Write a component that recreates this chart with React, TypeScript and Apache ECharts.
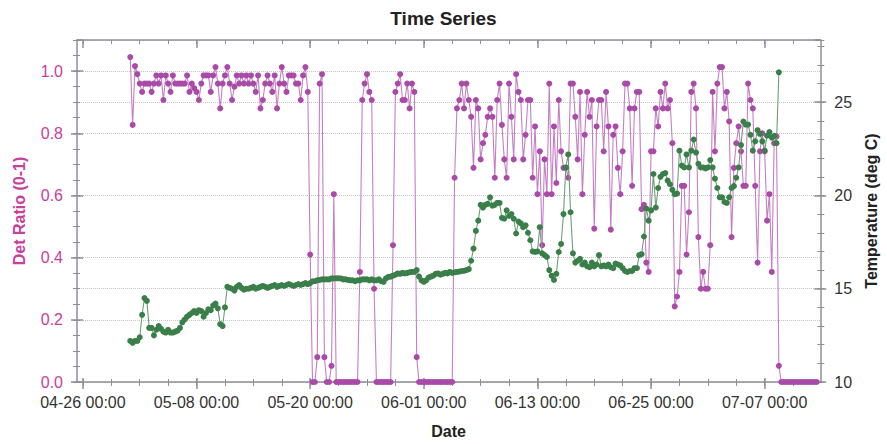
import React, { useEffect, useRef } from "react";
import * as echarts from "echarts";

// ---- data (6-hour samples starting 05-01 00:00) ----
const seriesStartUTC = Date.UTC(2021, 4, 1, 0, 0);
const sampleHours = 6;

const detRatio: number[] = [
  1.045, 0.827, 1.016, 0.99, 0.96, 0.933, 0.96, 0.96, 0.96, 0.933,
  0.96, 0.986, 0.96, 0.986, 0.907, 0.986, 0.96, 0.933, 0.986, 0.96,
  0.96, 0.96, 0.96, 0.96, 0.986, 0.933, 0.96, 0.945, 0.933, 0.907,
  0.96, 0.986, 0.986, 0.986, 0.933, 0.986, 1.013, 0.96, 0.88, 0.96,
  0.986, 1.013, 0.96, 0.907, 0.95, 0.986, 0.96, 0.986, 0.96, 0.986,
  0.96, 0.986, 0.96, 0.933, 0.986, 0.88, 0.907, 0.96, 0.986, 0.96,
  0.933, 0.986, 0.88, 0.96, 1.013, 0.96, 0.933, 0.986, 0.986, 0.986,
  0.96, 0.96, 0.907, 0.986, 1.013, 0.933,
  0.41, 0, 0, 0.08, 0.96, 0.99, 0.08, 0, 0, 0.052, 0.604,
  0, 0, 0, 0, 0, 0, 0, 0, 0, 0,
  0.354, 0.907, 0.96, 0.99, 0.933, 0.907, 0.3,
  0, 0, 0, 0, 0, 0, 0,
  0.44, 0.933, 0.96, 0.99, 0.907, 0.907, 0.96, 0.88, 0.96, 0.933, 0.08,
  0, 0, 0, 0, 0, 0, 0, 0, 0, 0, 0, 0, 0, 0, 0,
  0.657, 0.88, 0.907, 0.96, 0.88, 0.96, 0.907, 0.853, 0.689, 0.907,
  0.88, 0.716, 0.768, 0.795, 0.853, 0.88, 0.853, 0.657, 0.907, 0.96,
  0.827, 0.716, 0.657, 0.96, 0.853, 0.716, 0.99, 0.933, 0.907, 0.716,
  0.795, 0.907, 0.907, 0.657, 0.822, 0.604, 0.742, 0.44, 0.716, 0.604,
  0.96, 0.604, 0.822, 0.64, 0.907, 0.742, 0.689, 0.689, 0.657, 0.96,
  0.96, 0.853, 0.716, 0.933, 0.604, 0.795, 0.933, 0.853, 0.907, 0.493,
  0.822, 0.907, 0.907, 0.742, 0.933, 0.822, 0.49, 0.795, 0.822, 0.689,
  0.604, 0.742, 0.96, 0.96, 0.88, 0.631, 0.88, 0.933, 0.933, 0.556,
  0.57, 0.384, 0.354, 0.742, 0.742, 0.88, 0.822, 0.933, 0.88, 0.96,
  0.88, 0.907, 0.768, 0.243, 0.275, 0.354, 0.631, 0.631, 0.41, 0.546,
  0.933, 0.96, 0.88, 0.466, 0.3, 0.354, 0.3, 0.3, 0.44, 0.933,
  0.742, 0.96, 1.013, 1.013, 0.88, 0.933, 0.838, 0.466, 0.689, 0.768,
  0.822, 0.742, 0.631, 0.631, 0.96, 0.907, 0.88, 0.631, 0.384, 0.742,
  0.8, 0.742, 0.519, 0.604, 0.354, 0.768, 0.79, 0.052,
  0, 0, 0, 0, 0, 0, 0, 0, 0, 0, 0, 0, 0, 0, 0, 0,
];

const temperature: number[] = [
  12.2, 12.1, 12.2, 12.2, 12.4, 13.6, 14.5, 14.35, 12.9, 12.9,
  12.5, 12.8, 13.0, 12.85, 12.7, 12.65, 12.8, 12.65, 12.65, 12.7,
  12.75, 12.9, 13.2, 13.35, 13.5, 13.6, 13.7, 13.8, 13.7, 13.85,
  13.8, 13.5, 13.7, 13.9, 13.85, 14.1, 14.2, 13.95, 13.1, 13.0,
  14.0, 15.1, 15.05, 15.0, 14.9, 15.1, 15.2, 15.05, 14.95, 15.0,
  15.0, 15.05, 15.1, 15.0, 15.05, 15.1, 15.15, 15.1, 15.05, 15.1,
  15.15, 15.2, 15.1, 15.15, 15.2, 15.15, 15.2, 15.25, 15.2, 15.15,
  15.2, 15.25, 15.2, 15.25, 15.3, 15.25, 15.3, 15.4, 15.4, 15.45,
  15.47, 15.5, 15.5, 15.5, 15.5, 15.55, 15.55, 15.56, 15.56, 15.55,
  15.5, 15.5, 15.47, 15.45, 15.45, 15.4, 15.45, 15.45, 15.5, 15.5,
  15.5, 15.45, 15.5, 15.45, 15.45, 15.5, 15.4, 15.37, 15.55, 15.64,
  15.65, 15.7, 15.75, 15.82, 15.8, 15.85, 15.82, 15.85, 15.88, 15.9,
  15.9, 16.0, 15.65, 15.45, 15.37, 15.45, 15.6, 15.65, 15.7, 15.8,
  15.82, 15.75, 15.8, 15.85, 15.82, 15.9, 15.85, 15.88, 15.9, 15.92,
  15.95, 15.96, 16.0, 16.05, 16.5, 17.15, 18.1, 18.65, 19.5, 19.35,
  19.5, 19.55, 19.9, 19.45, 19.5, 19.6, 19.6, 18.8, 18.75, 19.2,
  18.9, 19.0, 18.75, 17.96, 18.6, 18.5, 18.3, 18.4, 18.0, 17.6,
  17.0, 16.97, 17.0, 18.3, 16.9, 16.8, 16.7, 16.0, 15.7, 15.47,
  15.8, 16.97, 17.4, 19.0, 21.5, 22.2, 19.1, 16.9, 16.4, 16.5,
  16.6, 16.3, 16.4, 16.2, 16.15, 16.4, 16.2, 16.3, 16.8, 16.2,
  16.25, 16.2, 16.3, 16.15, 16.1, 16.35, 16.3, 16.25, 16.1, 15.95,
  15.9, 15.95, 15.95, 16.1, 16.1, 16.8, 16.85, 17.8, 19.3, 18.65,
  19.2, 21.15, 19.35, 20.4, 21.0, 21.15, 21.2, 20.8, 20.6, 20.3,
  20.07, 20.1, 22.4, 21.6, 21.5, 22.2, 21.5, 22.4, 23.0, 22.3,
  21.7, 21.5, 21.5, 21.45, 21.5, 21.9, 21.5, 20.9, 20.4, 19.9,
  19.9, 19.65, 19.6, 19.9, 20.4, 20.5, 20.95, 21.5, 22.7, 23.96,
  23.8, 23.8, 23.25, 22.4, 22.9, 23.5, 23.3, 22.9, 22.4, 23.2,
  23.4, 23.1, 23.2, 22.8, 26.6,
];

// axis ranges & tick dates
const xMinUTC = Date.UTC(2021, 3, 25, 9, 0);
const xMaxUTC = Date.UTC(2021, 6, 12, 21, 0);
const majorTickDates: [number, number][] = [
  [4, 26], [5, 8], [5, 20], [6, 1], [6, 13], [6, 25], [7, 7],
];
const minorTickDays = 3;
const ratioRange = [0, 1.1];
const tempRange = [10, 28.3333];

const PURPLE_MARK = "#a94aa8";
const PURPLE_LINE = "#c57fc5";
const GREEN_MARK = "#3a7f49";
const GREEN_LINE = "#6f9f78";
const MAGENTA_TEXT = "#c8409e";
const AXIS_GREY = "#8e8e9a";
const FONT = "Liberation Sans, Arial, sans-serif";

const pad = (n: number) => (n < 10 ? "0" + n : "" + n);
const fmtDate = (v: number) => {
  const d = new Date(v);
  return `${pad(d.getUTCMonth() + 1)}-${pad(d.getUTCDate())} ${pad(d.getUTCHours())}:${pad(d.getUTCMinutes())}`;
};

export default function App() {
  const ref = useRef<HTMLDivElement>(null);
  useEffect(() => {
    if (!ref.current) return;
    const chart = echarts.init(ref.current, undefined, { renderer: "svg" });

    const stepMs = sampleHours * 3600 * 1000;
    const ratioData = detRatio.map((v, i) => [seriesStartUTC + i * stepMs, v]);
    const tempData = temperature.map((v, i) => [seriesStartUTC + i * stepMs, v]);

    const majorTicks = majorTickDates.map(([m, d]) => Date.UTC(2021, m - 1, d));
    const minorTicks: number[] = [];
    for (let t = majorTicks[0]; t <= xMaxUTC; t += minorTickDays * 86400000) minorTicks.push(t);

    const baseX = {
      type: "value" as const,
      min: xMinUTC,
      max: xMaxUTC,
      splitLine: { show: false },
      axisLabel: { show: false },
      axisLine: { show: false, onZero: false },
    };
    const tickX = (pos: string, values: number[], inside: boolean, len: number, w = 1) => ({
      ...baseX,
      position: pos,
      axisTick: { show: true, inside, customValues: values, length: len, lineStyle: { color: AXIS_GREY, width: w } },
    });
    const xAxes = [
      {
        ...baseX,
        position: "bottom",
        name: "Date",
        nameLocation: "middle",
        nameGap: 41,
        nameTextStyle: { fontFamily: FONT, fontSize: 16, fontWeight: "bold", color: "#222" },
        axisLine: { show: true, onZero: false, lineStyle: { color: AXIS_GREY, width: 1.5 } },
        axisTick: { show: true, customValues: majorTicks, length: 7, lineStyle: { color: AXIS_GREY, width: 1.5 } },
        axisLabel: {
          show: true,
          customValues: majorTicks,
          formatter: (v: number) => fmtDate(v),
          fontFamily: FONT,
          fontSize: 16,
          color: "#333",
          margin: 12,
        },
      },
      tickX("bottom", minorTicks, false, 4),
      tickX("bottom", minorTicks, true, 3),
      tickX("bottom", majorTicks, true, 4, 1.5),
      {
        ...tickX("top", minorTicks, true, 4),
        axisLine: { show: true, onZero: false, lineStyle: { color: AXIS_GREY, width: 1.5 } },
      },
      tickX("top", majorTicks, true, 8, 1.5),
    ];

    const splitStyle = { show: true, lineStyle: { color: "#c4c4c4", type: "dotted" as const, width: 1 } };
    const hiddenY = (pos: string, range: number[], interval: number, inside: boolean, len: number, w = 1) => ({
      type: "value" as const,
      position: pos,
      min: range[0],
      max: range[1],
      interval,
      axisLabel: { show: false },
      splitLine: { show: false },
      axisLine: { show: false, onZero: false },
      axisTick: { show: true, inside, length: len, lineStyle: { color: AXIS_GREY, width: w } },
    });

    const yAxes = [
      {
        type: "value",
        position: "left",
        min: ratioRange[0],
        max: ratioRange[1],
        interval: 0.2,
        name: "Det Ratio (0-1)",
        nameLocation: "middle",
        nameGap: 50,
        nameRotate: 90,
        nameTextStyle: { fontFamily: FONT, fontSize: 16, fontWeight: "bold", color: MAGENTA_TEXT },
        axisLine: { show: true, onZero: false, lineStyle: { color: AXIS_GREY, width: 1.5 } },
        axisTick: { show: true, length: 6, lineStyle: { color: AXIS_GREY, width: 1.5 } },
        axisLabel: {
          formatter: (v: number) => v.toFixed(1),
          showMaxLabel: false,
          fontFamily: FONT,
          fontSize: 16,
          color: MAGENTA_TEXT,
          margin: 14,
        },
        splitLine: splitStyle,
      },
      {
        type: "value",
        position: "right",
        min: tempRange[0],
        max: tempRange[1],
        interval: 5,
        name: "Temperature (deg C)",
        nameLocation: "middle",
        nameGap: 37,
        nameRotate: 90,
        nameTextStyle: { fontFamily: FONT, fontSize: 16, fontWeight: "bold", color: "#222" },
        axisLine: { show: true, onZero: false, lineStyle: { color: AXIS_GREY, width: 1.5 } },
        axisTick: { show: true, length: 6, lineStyle: { color: AXIS_GREY, width: 1.5 } },
        axisLabel: {
          showMaxLabel: false,
          fontFamily: FONT,
          fontSize: 16,
          color: "#333",
          margin: 14,
        },
        splitLine: splitStyle,
      },
      hiddenY("left", ratioRange, 0.05, false, 4),
      hiddenY("left", ratioRange, 0.05, true, 3),
      hiddenY("left", ratioRange, 0.2, true, 6, 1.5),
      hiddenY("right", tempRange, 1, false, 4),
      hiddenY("right", tempRange, 1, true, 3),
      hiddenY("right", tempRange, 5, true, 6, 1.5),
    ];

    chart.setOption({
      animation: false,
      backgroundColor: "#ffffff",
      title: {
        text: "Time Series",
        left: "center",
        top: 4,
        textStyle: { fontFamily: FONT, fontSize: 19, fontWeight: "bold", color: "#222" },
      },
      grid: { left: 77, right: 61, top: 40, bottom: 61, containLabel: false },
      xAxis: xAxes,
      yAxis: yAxes,
      series: [
        {
          name: "Det Ratio",
          type: "line",
          xAxisIndex: 0,
          yAxisIndex: 0,
          data: ratioData,
          symbol: "circle",
          symbolSize: 6,
          showSymbol: true,
          showAllSymbol: true,
          lineStyle: { color: PURPLE_LINE, width: 1.1 },
          itemStyle: { color: PURPLE_MARK },
          z: 2,
        },
        {
          name: "Temperature",
          type: "line",
          xAxisIndex: 0,
          yAxisIndex: 1,
          data: tempData,
          symbol: "circle",
          symbolSize: 6,
          showSymbol: true,
          showAllSymbol: true,
          lineStyle: { color: GREEN_LINE, width: 1.1 },
          itemStyle: { color: GREEN_MARK },
          z: 3,
        },
      ],
    });
    return () => chart.dispose();
  }, []);

  return (
    <div
      ref={ref}
      style={{ position: "fixed", left: 0, top: 0, width: 887, height: 444, background: "#fff" }}
    />
  );
}
